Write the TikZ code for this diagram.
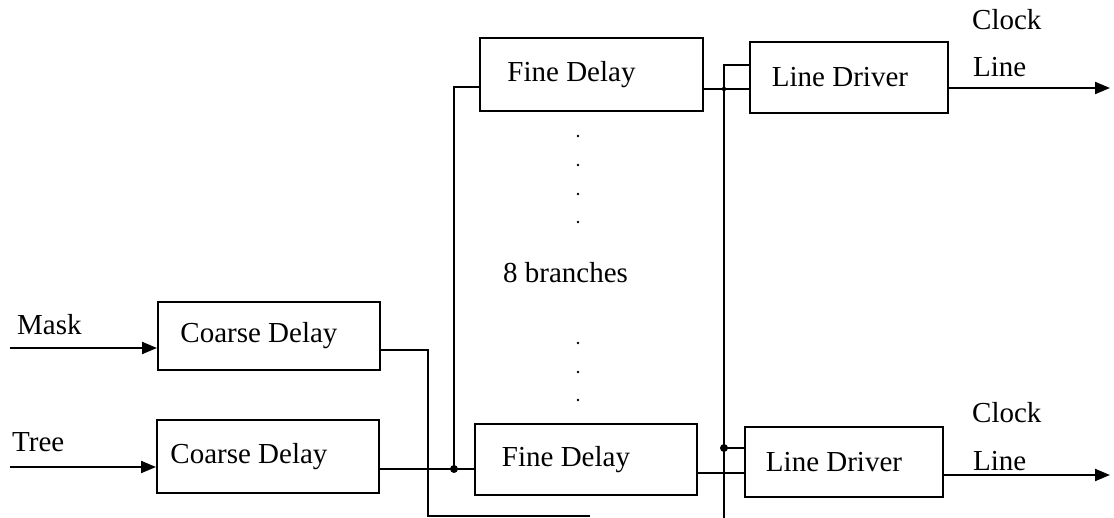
\documentclass[tikz,border=0pt]{standalone}
\usepackage{fontspec}
\setmainfont{Liberation Serif}
\usetikzlibrary{arrows.meta}
\begin{document}
\begin{tikzpicture}[x=1pt,y=-1pt,
  every node/.style={font=\fontsize{29}{33}\selectfont, inner sep=0pt},
  blk/.style={draw, line width=2pt, rectangle},
  wire/.style={line width=2pt},
  arr/.style={wire, -{Triangle[length=15pt,width=12pt]}},
  jdot/.style={circle, fill, inner sep=0pt, minimum size=8pt},
  sdot/.style={circle, fill, inner sep=0pt, minimum size=2.8pt},
  lbl/.style={anchor=base west}]
\useasboundingbox (0,0) rectangle (1114,518);
% blocks
\node[blk, minimum width=222pt, minimum height=68pt] (c1) at (269,336) {\hspace*{-20pt}Coarse Delay};
\node[blk, minimum width=222pt, minimum height=73pt] (c2) at (268,456.5) {\hspace*{-38pt}Coarse Delay};
\node[blk, minimum width=223pt, minimum height=73pt] (f1) at (591.5,74.5) {\hspace*{-40pt}Fine Delay};
\node[blk, minimum width=222pt, minimum height=71pt] (f2) at (586,459.5) {\hspace*{-40pt}Fine Delay};
\node[blk, minimum width=198pt, minimum height=71pt] (d1) at (849,77.5) {\hspace*{-18pt}Line Driver};
\node[blk, minimum width=198pt, minimum height=70pt] (d2) at (844,462) {\hspace*{-20pt}Line Driver};
% labels
\node[lbl] (mask) at (17,335) {Mask};
\node[lbl] (tree) at (12,452) {Tree};
\node[lbl] (br) at (503,283) {8 branches};
\node[lbl] (ck1) at (972,30) {Clock};
\node[lbl] (ln1) at (973,77) {Line};
\node[lbl] (ck2) at (972,423) {Clock};
\node[lbl] (ln2) at (973,470) {Line};
% coordinates
\coordinate (mi) at (10,348);
\coordinate (ti) at (10,467);
\coordinate (m1) at (428,350);
\coordinate (m2) at (428,516);
\coordinate (m3) at (590,516);
\coordinate (j1) at (454,469);
\coordinate (j1t) at (454,87);
\coordinate (vt) at (724,65);
\coordinate (vb) at (724,518);
\coordinate (j2) at (724,448);
\coordinate (j3) at (724,89);
\coordinate (o1) at (1110,88);
\coordinate (o2) at (1110,475);
% inputs
\draw[arr] (mi) -- (mi -| c1.west);
\draw[arr] (ti) -- (ti -| c2.west);
% mask path
\draw[wire] (c1.east |- m1) -- (m1) -- (m2) -- (m3);
% tree path
\draw[wire] (c2.east |- j1) -- (j1) -- (j1 -| f2.west);
\draw[wire] (j1) -- (j1t) -- (j1t -| f1.west);
\node[jdot] (jd1) at (j1) {};
% fine delay outputs
\draw[wire] (f1.east |- j3) -- (j3 -| d1.west);
\draw[wire] (f2.east |- 0,473) -- (d2.west |- 0,473);
% mask distribution
\draw[wire] (d1.west |- vt) -- (vt) -- (vb);
\draw[wire] (j2) -- (j2 -| d2.west);
\node[jdot] (jd2) at (j2) {};
\node[jdot, minimum size=4.5pt] (jd3) at (j3) {};
% outputs
\draw[arr] (d1.east |- o1) -- (o1);
\draw[arr] (d2.east |- o2) -- (o2);
% branch dots
\foreach \yy [count=\i] in {136,165,194,222,343,372,400}
  \node[sdot] (bd\i) at (578,\yy) {};
\end{tikzpicture}
\end{document}
